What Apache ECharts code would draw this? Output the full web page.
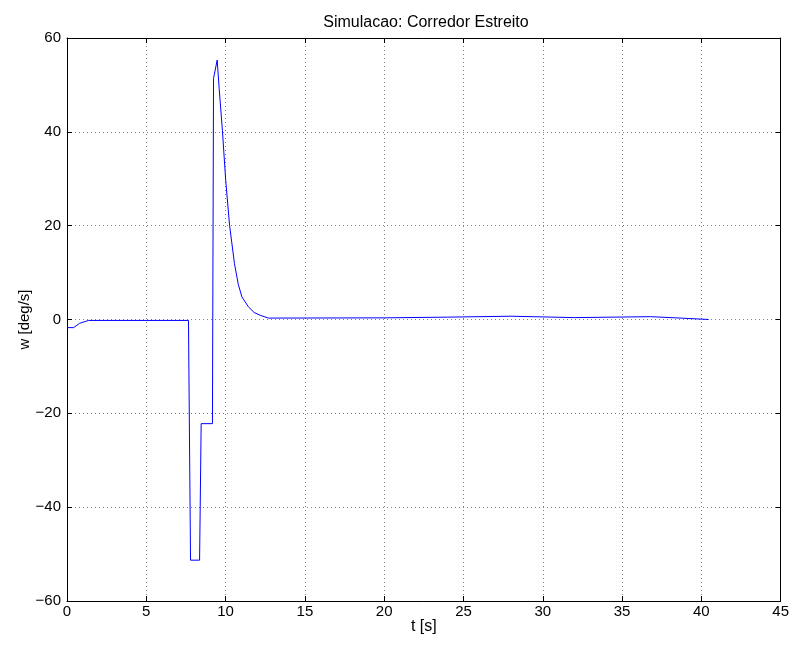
<!DOCTYPE html>
<html>
<head>
<meta charset="utf-8">
<script src="https://cdn.jsdelivr.net/npm/echarts@6/dist/echarts.min.js"></script>
<style>
html,body{margin:0;padding:0;background:#fff;}
#chart{width:792px;height:646px;}
</style>
</head>
<body>
<div id="chart"></div>
<script>
// Data
var timeValues = [0, 0.42, 0.8, 1.36, 7.66, 7.79, 8.36, 8.46, 9.17, 9.24, 9.47, 9.6, 9.8, 10.0, 10.25, 10.56, 10.8, 11.03, 11.44, 11.8, 12.18, 12.7, 20.0, 24.0, 28.0, 28.05, 32.0, 36.8, 36.85, 38.4, 38.45, 40.46];
var omegaValues = [-1.73, -1.73, -0.8, -0.2, -0.2, -51.3, -51.3, -22.2, -22.2, 51.4, 55.3, 49.0, 40.3, 30.0, 20.1, 11.9, 7.5, 4.8, 2.7, 1.5, 0.9, 0.3, 0.35, 0.5, 0.7, 0.3, 0.4, 0.6, 0.35, 0.35, 0.0, 0.0];
var xTicks = [0, 5, 10, 15, 20, 25, 30, 35, 40, 45];
var yTicks = [-60, -40, -20, 0, 20, 40, 60];
var titleText = 'Simulacao: Corredor Estreito';
var xLabel = 't [s]';
var yLabel = 'w [deg/s]';

var seriesData = timeValues.map(function (t, i) { return [t, omegaValues[i]]; });

var font = 'Liberation Sans, Arial, Helvetica, sans-serif';
var fs = 15;
var chart = echarts.init(document.getElementById('chart'), null, {renderer: 'canvas'});
var gridLine = {show: true, lineStyle: {color: '#7f7f7f', type: [1, 3], width: 1}};
var axisLine = {show: true, onZero: false, lineStyle: {color: '#000', width: 1}};
var tickIn = {show: true, inside: true, length: 5, lineStyle: {color: '#000'}};
function fmt(v) { return String(v).replace('-', '\u2212'); }

chart.setOption({
  animation: false,
  backgroundColor: '#fff',
  title: {
    text: titleText, left: 421, top: 10, textAlign: 'center',
    textStyle: {fontFamily: font, fontSize: 16, fontWeight: 'normal', color: '#000'}
  },
  grid: {left: 67, right: 11, top: 38, bottom: 45, containLabel: false},
  xAxis: [{
    type: 'value', min: xTicks[0], max: xTicks[xTicks.length - 1], interval: 5,
    position: 'bottom',
    name: xLabel, nameLocation: 'middle', nameGap: 18, nameMoveOverlap: false,
    nameTextStyle: {fontFamily: font, fontSize: 16, color: '#000', verticalAlign: 'top'},
    axisLine: axisLine, axisTick: tickIn, splitLine: gridLine,
    axisLabel: {fontFamily: font, fontSize: fs, color: '#000', margin: 3, formatter: fmt}
  }, {
    type: 'value', min: xTicks[0], max: xTicks[xTicks.length - 1], interval: 5,
    position: 'top',
    axisLine: axisLine, axisTick: tickIn, splitLine: {show: false},
    axisLabel: {show: false}
  }],
  yAxis: [{
    type: 'value', min: yTicks[0], max: yTicks[yTicks.length - 1], interval: 20,
    position: 'left',
    name: yLabel, nameLocation: 'middle', nameGap: 35, nameMoveOverlap: false,
    nameTextStyle: {fontFamily: font, fontSize: fs, color: '#000'},
    axisLine: axisLine, axisTick: tickIn, splitLine: gridLine,
    axisLabel: {fontFamily: font, fontSize: fs, color: '#000', margin: 6, formatter: fmt}
  }, {
    type: 'value', min: yTicks[0], max: yTicks[yTicks.length - 1], interval: 20,
    position: 'right',
    axisLine: axisLine, axisTick: tickIn, splitLine: {show: false},
    axisLabel: {show: false}
  }],
  series: [{
    type: 'line', data: seriesData, xAxisIndex: 0, yAxisIndex: 0,
    showSymbol: false, symbol: 'none', smooth: false,
    lineStyle: {color: '#0000ff', width: 1}
  }]
});
</script>
</body>
</html>
